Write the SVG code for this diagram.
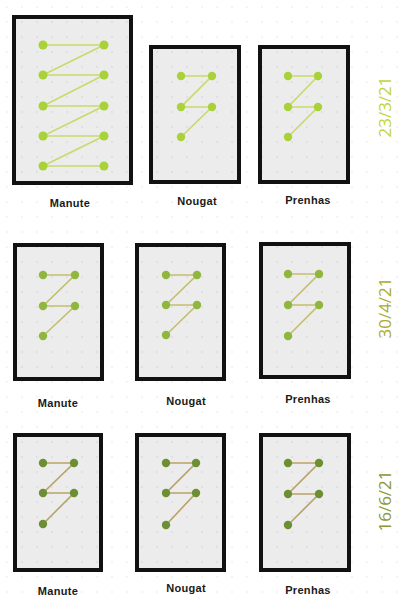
<svg xmlns="http://www.w3.org/2000/svg" width="409" height="596" viewBox="0 0 409 596">
<defs>
<pattern id="bgdots" width="15" height="15" patternUnits="userSpaceOnUse" x="5" y="5">
<circle cx="2" cy="2" r="0.8" fill="#e6e6e6"/>
</pattern>
<pattern id="inDots" width="15" height="15" patternUnits="userSpaceOnUse" x="0" y="0">
<circle cx="7" cy="7" r="0.8" fill="#d2d2d2"/>
</pattern>
</defs>
<style>
.box{fill:#ececec;stroke:#111;stroke-width:4}
.grid{fill:url(#inDots)}
.lbl{font-family:"Liberation Sans",Arial,sans-serif;font-size:11px;font-weight:bold;fill:#1a1a1a;text-anchor:middle;letter-spacing:0.3px}
.date{font-family:"Open Sans","Liberation Sans",sans-serif;font-size:17px;text-anchor:middle}
.c1{stroke:#c9da6a;stroke-width:1.6;fill:none}
.c2{stroke:#c4bf6e;stroke-width:1.6;fill:none}
.c3{stroke:#b9a366;stroke-width:1.6;fill:none}
.d1{fill:#a9d138}
.d2{fill:#8fb73e}
.d3{fill:#6d8f34}
</style>
<rect width="409" height="596" fill="#ffffff"/>
<rect width="409" height="596" fill="url(#bgdots)"/>

<g id="r1-manute">
<rect class="box" x="14" y="17" width="117" height="166"/>
<rect class="grid" x="16" y="19" width="113" height="162"/>
<text class="lbl" x="70" y="207">Manute</text>
</g>
<g id="r1-nougat">
<rect class="box" x="151" y="47" width="88" height="135"/>
<rect class="grid" x="153" y="49" width="84" height="131"/>
<text class="lbl" x="197" y="205">Nougat</text>
</g>
<g id="r1-prenhas">
<rect class="box" x="260" y="47" width="88" height="135"/>
<rect class="grid" x="262" y="49" width="84" height="131"/>
<text class="lbl" x="308" y="204">Prenhas</text>
</g>
<g id="date1"><text class="date" fill="#c2d43e" transform="translate(391,107) rotate(-90)">23/3/21</text></g>

<g id="r2-manute">
<rect class="box" x="15" y="245" width="87" height="134"/>
<rect class="grid" x="17" y="247" width="83" height="130"/>
<text class="lbl" x="58" y="407">Manute</text>
</g>
<g id="r2-nougat">
<rect class="box" x="137" y="245" width="87" height="134"/>
<rect class="grid" x="139" y="247" width="83" height="130"/>
<text class="lbl" x="186" y="405">Nougat</text>
</g>
<g id="r2-prenhas">
<rect class="box" x="261" y="244" width="88" height="133"/>
<rect class="grid" x="263" y="246" width="84" height="129"/>
<text class="lbl" x="308" y="403">Prenhas</text>
</g>
<g id="date2"><text class="date" fill="#aaab32" transform="translate(391,308) rotate(-90)">30/4/21</text></g>

<g id="r3-manute">
<rect class="box" x="15" y="435" width="86" height="135"/>
<rect class="grid" x="17" y="437" width="82" height="131"/>
<text class="lbl" x="58" y="595">Manute</text>
</g>
<g id="r3-nougat">
<rect class="box" x="137" y="435" width="87" height="135"/>
<rect class="grid" x="139" y="437" width="83" height="131"/>
<text class="lbl" x="186" y="592">Nougat</text>
</g>
<g id="r3-prenhas">
<rect class="box" x="261" y="435" width="88" height="135"/>
<rect class="grid" x="263" y="437" width="84" height="131"/>
<text class="lbl" x="308" y="594">Prenhas</text>
</g>
<g id="date3"><text class="date" fill="#8b9732" transform="translate(391,501) rotate(-90)">16/6/21</text></g>

<g id="connectors">
<polyline class="c1" points="43,45 104,45 43,75 104,75 43,106 104,106 43,136 104,136 43,166 104,166"/>
<polyline class="c1" points="181,76 212,76 181,107 212,107 181,137"/>
<polyline class="c1" points="288,76 318,76 288,107 318,107 288,137"/>
<polyline class="c2" points="43,275 75,275 43,306 75,306 43,336"/>
<polyline class="c2" points="166,275 197,275 166,305 197,305 166,335"/>
<polyline class="c2" points="288,274 319,274 288,305 319,305 288,336"/>
<polyline class="c3" points="43,463 74,463 43,493 74,493 43,524"/>
<polyline class="c3" points="166,463 196,463 166,493 196,493 166,525"/>
<polyline class="c3" points="288,463 319,463 288,494 319,494 288,525"/>
</g>

<g id="dots">
<g class="d1">
<circle cx="43" cy="45" r="4.5"/><circle cx="104" cy="45" r="4.5"/>
<circle cx="43" cy="75" r="4.5"/><circle cx="104" cy="75" r="4.5"/>
<circle cx="43" cy="106" r="4.5"/><circle cx="104" cy="106" r="4.5"/>
<circle cx="43" cy="136" r="4.5"/><circle cx="104" cy="136" r="4.5"/>
<circle cx="43" cy="166" r="4.5"/><circle cx="104" cy="166" r="4.5"/>
<circle cx="181" cy="76" r="4.2"/><circle cx="212" cy="76" r="4.2"/>
<circle cx="181" cy="107" r="4.2"/><circle cx="212" cy="107" r="4.2"/>
<circle cx="181" cy="137" r="4.2"/>
<circle cx="288" cy="76" r="4.2"/><circle cx="318" cy="76" r="4.2"/>
<circle cx="288" cy="107" r="4.2"/><circle cx="318" cy="107" r="4.2"/>
<circle cx="288" cy="137" r="4.2"/>
</g>
<g class="d2">
<circle cx="43" cy="275" r="4.2"/><circle cx="75" cy="275" r="4.2"/>
<circle cx="43" cy="306" r="4.2"/><circle cx="75" cy="306" r="4.2"/>
<circle cx="43" cy="336" r="4.2"/>
<circle cx="166" cy="275" r="4.2"/><circle cx="197" cy="275" r="4.2"/>
<circle cx="166" cy="305" r="4.2"/><circle cx="197" cy="305" r="4.2"/>
<circle cx="166" cy="335" r="4.2"/>
<circle cx="288" cy="274" r="4.2"/><circle cx="319" cy="274" r="4.2"/>
<circle cx="288" cy="305" r="4.2"/><circle cx="319" cy="305" r="4.2"/>
<circle cx="288" cy="336" r="4.2"/>
</g>
<g class="d3">
<circle cx="43" cy="463" r="4.2"/><circle cx="74" cy="463" r="4.2"/>
<circle cx="43" cy="493" r="4.2"/><circle cx="74" cy="493" r="4.2"/>
<circle cx="43" cy="524" r="4.2"/>
<circle cx="166" cy="463" r="4.2"/><circle cx="196" cy="463" r="4.2"/>
<circle cx="166" cy="493" r="4.2"/><circle cx="196" cy="493" r="4.2"/>
<circle cx="166" cy="525" r="4.2"/>
<circle cx="288" cy="463" r="4.2"/><circle cx="319" cy="463" r="4.2"/>
<circle cx="288" cy="494" r="4.2"/><circle cx="319" cy="494" r="4.2"/>
<circle cx="288" cy="525" r="4.2"/>
</g>
</g>
</svg>
